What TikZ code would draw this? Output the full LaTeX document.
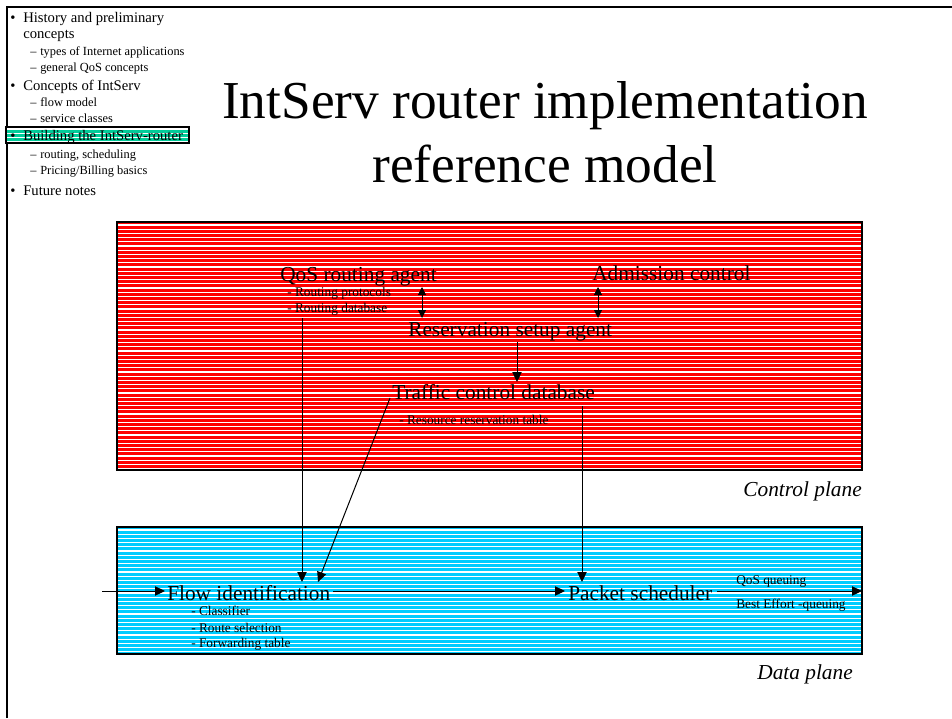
\documentclass[tikz,border=0pt]{standalone}
\usepackage{fontspec}
\setmainfont{Liberation Serif}
\usetikzlibrary{arrows.meta}
\definecolor{planered}{RGB}{255,0,0}
\definecolor{planeblue}{RGB}{0,204,255}
\definecolor{hiteal}{RGB}{0,204,153}
\begin{document}
\begin{tikzpicture}[x=0.75pt,y=-0.75pt,
  big/.style={font=\fontsize{16}{19}\selectfont, inner sep=0pt, anchor=base west},
  small/.style={font=\fontsize{10}{12}\selectfont, inner sep=0pt, anchor=base west},
  lone/.style={font=\fontsize{11}{13}\selectfont, inner sep=0pt, anchor=base west},
  ltwo/.style={font=\fontsize{9.3}{11}\selectfont, inner sep=0pt, anchor=base west},
  plane/.style={font=\fontsize{16}{19}\selectfont\itshape, inner sep=0pt, anchor=base east},
  titlestyle/.style={font=\fontsize{40}{48}\selectfont, inner sep=0pt, anchor=base},
  conn/.style={draw=black, line width=0.75pt},
  arr/.style={conn, -{Triangle[length=7.5pt,width=7pt]}},
  darr/.style={conn, {Triangle[length=6pt,width=6pt]}-{Triangle[length=6pt,width=6pt]}},
  stripe/.style={draw=white, line width=0.8pt},
  planebox/.style={draw=black, line width=1.1pt},
]
\useasboundingbox (0,0) rectangle (952,718);
\fill[white] (0,0) rectangle (952,718);
% slide frame
\draw[line width=1.6pt] (7,718) -- (7,7) -- (952,7);

% outline
\fill[hiteal] (6,127) rectangle (189,143);
\foreach \i in {0,...,3} {\draw[stripe] (6,{129+\i*4.2}) -- (189,{129+\i*4.2});}
\draw[line width=0.8pt] (6,127) rectangle (189,143);

\node[lone] (b1) at (10,22) {•};
\node[lone] (o1) at (23,22) {History and preliminary};
\node[lone] (o1b) at (23,38) {concepts};
\node[ltwo] (d1) at (30,55) {–};
\node[ltwo] (o2) at (40,55) {types of Internet applications};
\node[ltwo] (d2) at (30,71) {–};
\node[ltwo] (o3) at (40,71) {general QoS concepts};
\node[lone] (b2) at (10,90) {•};
\node[lone] (o4) at (23,90) {Concepts of IntServ};
\node[ltwo] (d3) at (30,106) {–};
\node[ltwo] (o5) at (40,106) {flow model};
\node[ltwo] (d4) at (30,122) {–};
\node[ltwo] (o6) at (40,122) {service classes};
\node[lone] (b3) at (10,140) {•};
\node[lone] (o7) at (23,140) {Building the IntServ-router};
\node[ltwo] (d5) at (30,158) {–};
\node[ltwo] (o8) at (40,158) {routing, scheduling};
\node[ltwo] (d6) at (30,174) {–};
\node[ltwo] (o9) at (40,174) {Pricing/Billing basics};
\node[lone] (b4) at (10,195) {•};
\node[lone] (o10) at (23,195) {Future notes};

% title
\node[titlestyle] (t1) at (545,118) {IntServ router implementation};
\node[titlestyle] (t2) at (545,182) {reference model};

% control plane box
\fill[planered] (117,222) rectangle (862,470);
\foreach \i in {0,...,58} {\draw[stripe] (117,{225+\i*4.2}) -- (862,{225+\i*4.2});}
\draw[planebox] (117,222) rectangle (862,470);
\node[plane] (cp) at (862,496) {Control plane};

% data plane box
\fill[planeblue] (117,527) rectangle (862,654);
\foreach \i in {0,...,29} {\draw[stripe] (117,{530+\i*4.2}) -- (862,{530+\i*4.2});}
\draw[planebox] (117,527) rectangle (862,654);
\node[plane] (dp) at (853,679) {Data plane};

% control plane texts
\node[big] (qos) at (280,281) {QoS routing agent};
\node[small] (rp) at (287,296) {- Routing protocols};
\node[small] (rd) at (287,312) {- Routing database};
\node[big] (adm) at (592,280) {Admission control};
\node[big] (rsa) at (408,336) {Reservation setup agent};
\node[big] (tcd) at (392,399) {Traffic control database};
\node[small] (rrt) at (399,424) {- Resource reservation table};

% data plane texts
\node[big] (fid) at (167,600) {Flow identification};
\node[small] (cls) at (191,615) {- Classifier};
\node[small] (rs) at (191,632) {- Route selection};
\node[small] (ft) at (191,647) {- Forwarding table};
\node[big] (ps) at (568,600) {Packet scheduler};
\node[small] (qq) at (736,584) {QoS queuing};
\node[small] (be) at (736,608) {Best Effort -queuing};

% connector end points
\coordinate (inS) at (102,591);
\coordinate (fidW) at (165,591);
\coordinate (fidE) at (333,591);
\coordinate (psW) at (565,591);
\coordinate (psE) at (717,591);
\coordinate (outE) at (862,591);
\coordinate (qosB) at (302,318);
\coordinate (fidT1) at (302,582);
\coordinate (tcdL) at (390,398);
\coordinate (fidT2) at (318,582);
\coordinate (tcdB) at (582,406);
\coordinate (psT) at (582,582);
\coordinate (rsaB) at (517,342);
\coordinate (tcdT) at (517,382);
\coordinate (d1a) at (422,287);
\coordinate (d1b) at (422,318);
\coordinate (d2a) at (598,287);
\coordinate (d2b) at (598,318);

% connectors
\draw[arr] (inS) -- (fidW);
\draw[arr] (fidE) -- (psW);
\draw[arr] (psE) -- (outE);
\draw[arr] (qosB) -- (fidT1);
\draw[arr] (tcdL) -- (fidT2);
\draw[arr] (tcdB) -- (psT);
\draw[arr] (rsaB) -- (tcdT);
\draw[darr] (d1a) -- (d1b);
\draw[darr] (d2a) -- (d2b);
\end{tikzpicture}
\end{document}
